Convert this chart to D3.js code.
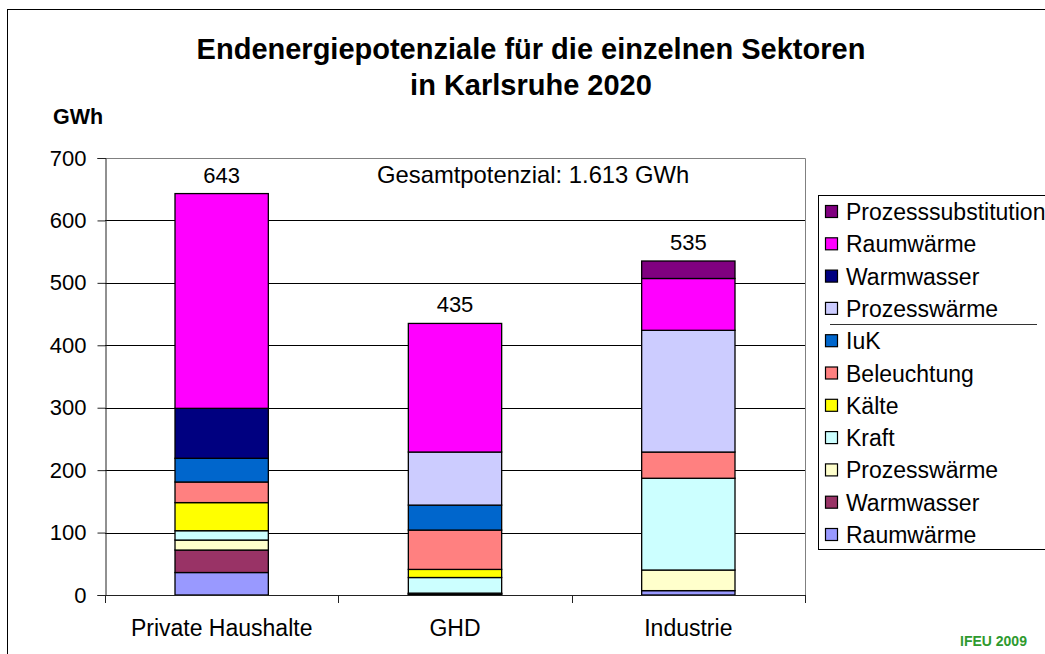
<!DOCTYPE html>
<html><head><meta charset="utf-8">
<script src="https://cdn.jsdelivr.net/npm/d3@7"></script>
<style>body{margin:0;background:#fff}svg{display:block;font-family:"Liberation Sans",Arial,sans-serif}</style>
</head><body>
<script>
const categories = ["Private Haushalte", "GHD", "Industrie"];
// series from bottom of stack to top
const seriesNames = ["Raumwärme","Warmwasser","Prozesswärme","Kraft","Kälte","Beleuchtung","IuK","Prozesswärme","Warmwasser","Raumwärme","Prozesssubstitution"];
const seriesColors = ["#9999FF","#993366","#FFFFCC","#CCFFFF","#FFFF00","#FF8080","#0066CC","#CCCCFF","#000080","#FF00FF","#800080"];
const valuesPH  = [36, 36, 16, 15, 45, 33, 38, 0, 80, 344, 0];
const valuesGHD = [1, 1, 1, 25, 13, 63, 40, 85, 0, 206, 0];
const valuesIND = [7, 0, 33, 147, 0, 42, 0, 195, 0, 83, 28];
const yTicks = [0,100,200,300,400,500,600,700];
const titleLines = ["Endenergiepotenziale für die einzelnen Sektoren","in Karlsruhe 2020"];
const totalLabel = "Gesamtpotenzial: 1.613 GWh";

const W=1045,H=654;
const svg=d3.select("body").append("svg").attr("width",W).attr("height",H);
svg.append("rect").attr("x",7.5).attr("y",9.5).attr("width",1200).attr("height",800).attr("fill","#fff").attr("stroke","#000");

const L=105,R=805,T=158,B=595;
const x=d3.scaleBand().domain(categories).range([L,R]).paddingInner(0.6).paddingOuter(0.3);
const y=d3.scaleLinear().domain([0,700]).range([B,T]);

// gridlines
svg.append("g").selectAll("line").data(yTicks.filter(t=>t>0&&t<700)).join("line")
  .attr("x1",L).attr("x2",R).attr("y1",d=>Math.round(y(d))+0.5).attr("y2",d=>Math.round(y(d))+0.5)
  .attr("stroke","#000").attr("stroke-width",1);
// plot border top/right
svg.append("path").attr("d",`M${L},${T+0.5}H${R+0.5}V${B}`).attr("fill","none").attr("stroke","#808080");

const vals=[valuesPH,valuesGHD,valuesIND];
const rows=categories.map((c,i)=>{const o={cat:c};seriesNames.forEach((s,j)=>o["s"+j]=vals[i][j]);return o;});
const keys=seriesNames.map((s,j)=>"s"+j);
const stack=d3.stack().keys(keys)(rows);
svg.append("g").selectAll("g").data(stack).join("g")
  .attr("fill",(d,i)=>seriesColors[i])
  .selectAll("rect").data(d=>d).join("rect")
  .attr("x",d=>x(d.data.cat)).attr("width",x.bandwidth())
  .attr("y",d=>y(d[1])).attr("height",d=>Math.max(0,y(d[0])-y(d[1])))
  .attr("stroke","#000").attr("stroke-width",1.3)
  .style("display",d=>d[1]-d[0]>0?null:"none");

// y axis
const ya=svg.append("g").attr("transform",`translate(${L+0.5},0)`)
  .call(d3.axisLeft(y).tickValues(yTicks).tickSize(8).tickPadding(11).tickFormat(d3.format("d")));
ya.select(".domain").attr("stroke","#222");
ya.selectAll(".tick line").attr("stroke","#222");
ya.selectAll("text").attr("font-size",22).attr("font-family","Liberation Sans, Arial").attr("fill","#000");

// x axis
svg.append("line").attr("x1",L).attr("x2",R+1).attr("y1",B+0.5).attr("y2",B+0.5).attr("stroke","#222");
const bounds=[0,1,2,3].map(i=>L+i*x.step());
svg.append("g").selectAll("line").data(bounds).join("line")
  .attr("x1",d=>Math.round(d)+0.5).attr("x2",d=>Math.round(d)+0.5).attr("y1",B).attr("y2",B+8).attr("stroke","#222");
svg.append("g").selectAll("text").data(categories).join("text")
  .attr("x",d=>x(d)+x.bandwidth()/2).attr("y",636).attr("text-anchor","middle")
  .attr("font-size",23).text(d=>d);

// totals
svg.append("g").selectAll("text").data(rows).join("text")
  .attr("x",d=>x(d.cat)+x.bandwidth()/2)
  .attr("y",(d,i)=>y(d3.sum(vals[i]))-11).attr("text-anchor","middle")
  .attr("font-size",22).text((d,i)=>d3.sum(vals[i]));

svg.append("text").attr("x",377).attr("y",183).attr("font-size",23.8).text(totalLabel);

// title
svg.append("g").selectAll("text").data(titleLines).join("text")
  .attr("x",531).attr("y",(d,i)=>59+i*36).attr("text-anchor","middle")
  .attr("font-size",29).attr("font-weight","bold").text(d=>d);
svg.append("text").attr("x",53).attr("y",124).attr("font-size",21.5).attr("font-weight","bold").text("GWh");

// legend
const lg=svg.append("g");
lg.append("rect").attr("x",818.5).attr("y",195.5).attr("width",300).attr("height",354).attr("fill","#fff").attr("stroke","#000");
const order=d3.range(seriesNames.length).reverse();
const li=lg.selectAll("g").data(order).join("g").attr("transform",(d,i)=>`translate(0,${220+i*32.3})`);
li.append("rect").attr("x",825.5).attr("y",-14.5).attr("width",12).attr("height",12)
  .attr("fill",d=>seriesColors[d]).attr("stroke","#000").attr("stroke-width",1.2);
li.append("text").attr("x",846).attr("y",0).attr("font-size",23).text(d=>seriesNames[d]);
lg.append("line").attr("x1",830).attr("x2",1037).attr("y1",324.5).attr("y2",324.5).attr("stroke","#333");

svg.append("text").attr("x",960).attr("y",646).attr("font-size",14).attr("font-weight","bold").attr("fill","#2E9A2E").text("IFEU 2009");
</script>
</body></html>
